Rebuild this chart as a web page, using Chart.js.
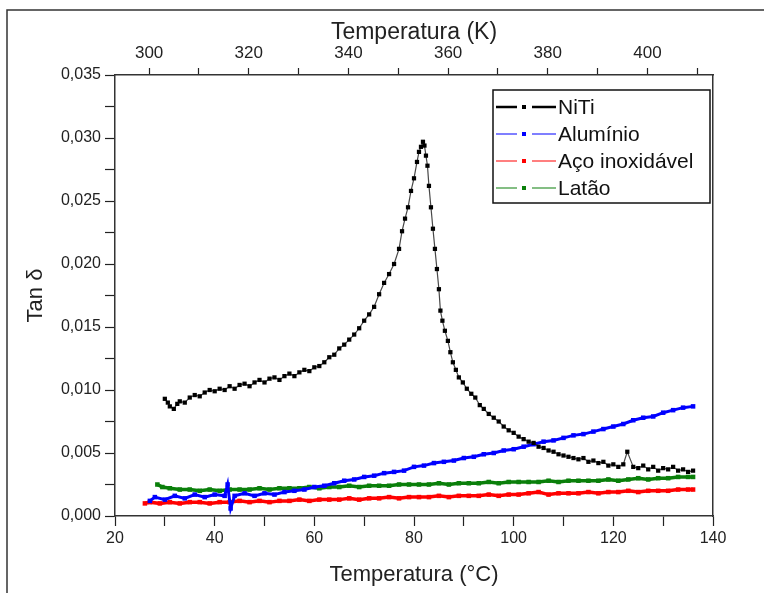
<!DOCTYPE html>
<html>
<head>
<meta charset="utf-8">
<script src="https://cdn.jsdelivr.net/npm/chart.js@4.4.1/dist/chart.umd.min.js"></script>
<style>
    body { margin: 0; background: #fff; }
    #wrap { position: relative; width: 764px; height: 593px; }
</style>
</head>
<body>
<div id="wrap"><canvas id="tanChart"></canvas></div>
<script>
// Tan delta vs temperature, four alloys
const tempNiTi = [30, 30.6, 31, 31.8, 32.5, 33, 34, 35, 36, 37, 38, 39, 40, 41, 42, 43, 44, 45, 46, 47, 48, 49, 50,
    51, 52, 53, 54, 55, 56, 57, 58, 59, 60, 61, 62, 63, 64, 65, 66, 67, 68, 69, 70, 71, 72, 73, 74, 75, 76, 77,
    77.6, 78.2, 78.8, 79.4, 80, 80.6, 81, 81.4, 81.8, 82.1, 82.4, 82.7, 83, 83.4, 83.8, 84.2, 84.6, 85, 85.3, 85.7,
    86.2, 86.8, 87.3, 87.8, 88.4, 89, 89.8, 90.6, 91.5, 92.3, 93.2, 94, 95, 96, 97, 98, 99, 100, 101, 102, 103, 104,
    105, 106, 107, 108, 109, 110, 111, 112, 113, 114, 115, 116, 117, 118, 119, 120, 121, 122, 122.8, 124, 125, 126,
    127, 128, 129, 130, 131, 132, 133, 134, 135, 136];
const tanNiTi = [0.0093, 0.0090, 0.0087, 0.0085, 0.0089, 0.0091, 0.0090, 0.0094, 0.0096, 0.0095, 0.0098, 0.0100, 0.0099,
    0.0101, 0.0100, 0.0103, 0.0101, 0.0104, 0.0105, 0.0103, 0.0106, 0.0108, 0.0106, 0.0109, 0.0110, 0.0108, 0.0111,
    0.0113, 0.0111, 0.0114, 0.0116, 0.0115, 0.0118, 0.0119, 0.0122, 0.0126, 0.0128, 0.0133, 0.0136, 0.0140, 0.0144,
    0.0149, 0.0155, 0.0160, 0.0166, 0.0176, 0.0185, 0.0192, 0.0200, 0.0212, 0.0226, 0.0236, 0.0245, 0.0258, 0.0268,
    0.0281, 0.0289, 0.0293, 0.0297, 0.0294, 0.0286, 0.0278, 0.0262, 0.0245, 0.0228, 0.0212, 0.0196, 0.0180, 0.0163,
    0.0155, 0.0147, 0.0139, 0.0130, 0.0122, 0.0116, 0.0110, 0.0106, 0.0101, 0.0097, 0.0094, 0.0088, 0.0085, 0.0081,
    0.0078, 0.0075, 0.0071, 0.0068, 0.0066, 0.0063, 0.0061, 0.0059, 0.0058, 0.0055, 0.0054, 0.0052, 0.0051, 0.0049,
    0.0048, 0.0047, 0.0046, 0.0045, 0.0046, 0.0043, 0.0044, 0.0042, 0.0043, 0.0040, 0.0041, 0.0039, 0.0041, 0.0051,
    0.0039, 0.0038, 0.0040, 0.0037, 0.0039, 0.0036, 0.0038, 0.0037, 0.0039, 0.0036, 0.0037, 0.0035, 0.0036];

const tempAl = [27, 28, 30, 32, 34, 36, 38, 40, 42, 42.6, 43.2, 44, 46, 48, 50, 52, 54, 56, 58, 60, 62, 64, 66, 68, 70,
    72, 74, 76, 78, 80, 82, 84, 86, 88, 90, 92, 94, 96, 98, 100, 102, 104, 106, 108, 110, 112, 114, 116, 118, 120,
    122, 124, 126, 128, 130, 132, 134, 136];
const tanAl = [0.0012, 0.0015, 0.0013, 0.0016, 0.0014, 0.0017, 0.0015, 0.0017, 0.0016, 0.0025, 0.0006, 0.0016, 0.0018,
    0.0016, 0.0018, 0.0017, 0.0019, 0.0020, 0.0021, 0.0023, 0.0024, 0.0026, 0.0028, 0.0029, 0.0031, 0.0032, 0.0034,
    0.0035, 0.0036, 0.0039, 0.0040, 0.0042, 0.0043, 0.0044, 0.0046, 0.0047, 0.0049, 0.0050, 0.0052, 0.0053, 0.0055,
    0.0057, 0.0059, 0.0060, 0.0062, 0.0064, 0.0065, 0.0067, 0.0069, 0.0071, 0.0073, 0.0076, 0.0078, 0.0079, 0.0082,
    0.0084, 0.0086, 0.0087];

const tempInox = [26, 27, 29, 31, 33, 35, 37, 39, 41, 43, 45, 47, 49, 51, 53, 55, 57, 59, 61, 63, 65, 67, 69, 71, 73,
    75, 77, 79, 81, 83, 85, 87, 89, 91, 93, 95, 97, 99, 101, 103, 105, 107, 109, 111, 113, 115, 117, 119, 121, 123,
    125, 127, 129, 131, 133, 135, 136];
const tanInox = [0.0010, 0.0011, 0.0010, 0.0011, 0.0010, 0.0011, 0.0011, 0.0010, 0.0011, 0.0011, 0.0012, 0.0011, 0.0012,
    0.0011, 0.0012, 0.0012, 0.0013, 0.0012, 0.0013, 0.0013, 0.0013, 0.0014, 0.0013, 0.0014, 0.0014, 0.0015, 0.0014,
    0.0015, 0.0015, 0.0015, 0.0016, 0.0015, 0.0016, 0.0016, 0.0016, 0.0017, 0.0016, 0.0017, 0.0017, 0.0018, 0.0019,
    0.0017, 0.0018, 0.0018, 0.0018, 0.0019, 0.0018, 0.0019, 0.0019, 0.0020, 0.0019, 0.0020, 0.0020, 0.0020, 0.0021,
    0.0021, 0.0021];

const tempLatao = [28.5, 29.5, 31, 33, 35, 37, 39, 41, 43, 45, 47, 49, 51, 53, 55, 57, 59, 61, 63, 65, 67, 69, 71, 73,
    75, 77, 79, 81, 83, 85, 87, 89, 91, 93, 95, 97, 99, 101, 103, 105, 107, 109, 111, 113, 115, 117, 119, 121, 123,
    125, 127, 129, 131, 133, 135, 136];
const tanLatao = [0.0025, 0.0023, 0.0022, 0.0021, 0.0021, 0.0020, 0.0021, 0.0020, 0.0021, 0.0021, 0.0021, 0.0022, 0.0021,
    0.0022, 0.0022, 0.0022, 0.0023, 0.0022, 0.0023, 0.0023, 0.0024, 0.0023, 0.0024, 0.0024, 0.0024, 0.0025, 0.0025,
    0.0025, 0.0025, 0.0026, 0.0025, 0.0026, 0.0026, 0.0026, 0.0027, 0.0026, 0.0027, 0.0027, 0.0027, 0.0027, 0.0028,
    0.0027, 0.0028, 0.0028, 0.0028, 0.0028, 0.0029, 0.0028, 0.0029, 0.0030, 0.0029, 0.0030, 0.0030, 0.0031, 0.0031,
    0.0031];

// axis ticks (labelled ones get text, the rest are plain marks)
const celsiusTicks = [20, 30, 40, 50, 60, 70, 80, 90, 100, 110, 120, 130, 140];
const celsiusLabels = [20, 40, 60, 80, 100, 120, 140];
const kelvinTicks = [300, 310, 320, 330, 340, 350, 360, 370, 380, 390, 400, 410];
const kelvinLabels = [300, 320, 340, 360, 380, 400];
const tanTicks = [0, 0.0025, 0.005, 0.0075, 0.01, 0.0125, 0.015, 0.0175, 0.02, 0.0225, 0.025, 0.0275, 0.03, 0.0325, 0.035];
const tanLabels = ['0,000', '0,005', '0,010', '0,015', '0,020', '0,025', '0,030', '0,035'];

const C_MIN = 20, C_MAX = 140, K_OFFSET = 273.15;

const FONT = "'Liberation Sans', Arial, sans-serif";
const TXT = '#222';

const pts = (xs, ys) => xs.map((x, i) => ({ x: x, y: ys[i] }));

const series = [
    { label: 'NiTi', color: '#000000', line: 'rgba(40,40,40,0.85)', temp: tempNiTi, tan: tanNiTi, lw: 1.2, r: 3, legendLw: 2.5 },
    { label: 'Alumínio', color: '#0000ff', line: '#0000ff', temp: tempAl, tan: tanAl, lw: 3, r: 3.2, legendLw: 1.2 },
    { label: 'Aço inoxidável', color: '#ff0000', line: '#ff0000', temp: tempInox, tan: tanInox, lw: 3.5, r: 3.2, legendLw: 1.2 },
    { label: 'Latão', color: '#0a7f0a', line: '#0a7f0a', temp: tempLatao, tan: tanLatao, lw: 3.5, r: 3.2, legendLw: 1.2 }
];

const setTicks = (values) => (scale) => { scale.ticks = values.map(v => ({ value: v })); };

// outer frame, only top & left edges fall inside the page
const framePlugin = {
    id: 'frame',
    beforeDraw(chart) {
        const ctx = chart.ctx;
        ctx.save();
        ctx.strokeStyle = '#333';
        ctx.lineWidth = 1.5;
        ctx.strokeRect(7, 10, 800, 700);
        ctx.restore();
    }
};

// boxed legend in the top-right corner of the plot
const boxLegend = {
    id: 'boxLegend',
    afterDraw(chart) {
        const ctx = chart.ctx;
        const area = chart.chartArea;
        const w = 217, h = 113;
        const x0 = area.right - w - 3, y0 = area.top + 15;
        ctx.save();
        ctx.fillStyle = '#fff';
        ctx.fillRect(x0, y0, w, h);
        ctx.strokeStyle = '#111';
        ctx.lineWidth = 1.5;
        ctx.strokeRect(x0, y0, w, h);
        ctx.font = '21px ' + FONT;
        ctx.textBaseline = 'middle';
        series.forEach((s, i) => {
            const yy = Math.round(y0 + 17 + i * 27);
            ctx.strokeStyle = s.color;
            ctx.lineWidth = s.legendLw;
            ctx.beginPath();
            ctx.moveTo(x0 + 3, yy); ctx.lineTo(x0 + 24, yy);
            ctx.moveTo(x0 + 39, yy); ctx.lineTo(x0 + 63, yy);
            ctx.stroke();
            ctx.fillStyle = s.color;
            ctx.fillRect(x0 + 29, yy - 2, 4, 4);
            ctx.fillStyle = '#111';
            ctx.fillText(s.label, x0 + 65, yy + 1);
        });
        ctx.restore();
    }
};

new Chart(document.getElementById('tanChart'), {
    type: 'line',
    data: {
        datasets: series.map(s => ({
            label: s.label,
            data: pts(s.temp, s.tan),
            borderColor: s.line,
            borderWidth: s.lw,
            backgroundColor: s.color,
            pointStyle: 'rect',
            pointRadius: s.r,
            pointBorderWidth: 0,
            pointBackgroundColor: s.color,
            tension: 0,
            fill: false
        }))
    },
    options: {
        responsive: true,
        maintainAspectRatio: false,
        animation: false,
        layout: { padding: 0 },
        plugins: { legend: { display: false }, tooltip: { enabled: false } },
        scales: {
            x: {
                type: 'linear', position: 'bottom', min: C_MIN, max: C_MAX,
                afterBuildTicks: setTicks(celsiusTicks),
                afterFit: s => { s.height = 77; },
                grid: { drawOnChartArea: false, color: '#222', tickLength: 10, tickWidth: 1.2 },
                border: { color: '#333', width: 1.5 },
                ticks: {
                    autoSkip: false, maxRotation: 0, padding: 3, color: TXT,
                    font: { family: FONT, size: 16 },
                    callback: v => celsiusLabels.includes(v) ? String(v) : ''
                },
                title: {
                    display: true, text: 'Temperatura (°C)', color: TXT,
                    font: { family: FONT, size: 22 }, padding: { top: 0, bottom: 5 }
                }
            },
            xK: {
                type: 'linear', position: 'top', min: C_MIN + K_OFFSET, max: C_MAX + K_OFFSET,
                afterBuildTicks: setTicks(kelvinTicks),
                afterFit: s => { s.height = 75; },
                grid: { drawOnChartArea: false, color: '#222', tickLength: 7, tickWidth: 1.2 },
                border: { color: '#333', width: 1.5 },
                ticks: {
                    autoSkip: false, maxRotation: 0, padding: 4, color: TXT,
                    font: { family: FONT, size: 17 },
                    callback: v => kelvinLabels.includes(v) ? String(v) : ''
                },
                title: {
                    display: true, text: 'Temperatura (K)', color: TXT,
                    font: { family: FONT, size: 23 }, padding: { top: 19, bottom: 0 }
                }
            },
            y: {
                type: 'linear', position: 'left', min: 0, max: 0.035,
                afterBuildTicks: setTicks(tanTicks),
                afterFit: s => { s.width = 115; },
                grid: { drawOnChartArea: false, color: '#222', tickLength: 10, tickWidth: 1.2 },
                border: { color: '#333', width: 1.5 },
                ticks: {
                    autoSkip: false, padding: 4, color: TXT,
                    font: { family: FONT, size: 16 },
                    callback: (v, i) => (i % 2 === 0) ? tanLabels[i / 2] : ''
                },
                title: {
                    display: true, text: 'Tan δ', color: TXT,
                    font: { family: FONT, size: 22 }, padding: { top: 23, bottom: 0 }
                }
            },
            yR: {
                type: 'linear', position: 'right', min: 0, max: 0.035,
                afterFit: s => { s.width = 51; },
                grid: { display: false },
                border: { color: '#333', width: 1.5 },
                ticks: { display: false }
            }
        }
    },
    plugins: [framePlugin, boxLegend]
});
</script>
</body>
</html>
